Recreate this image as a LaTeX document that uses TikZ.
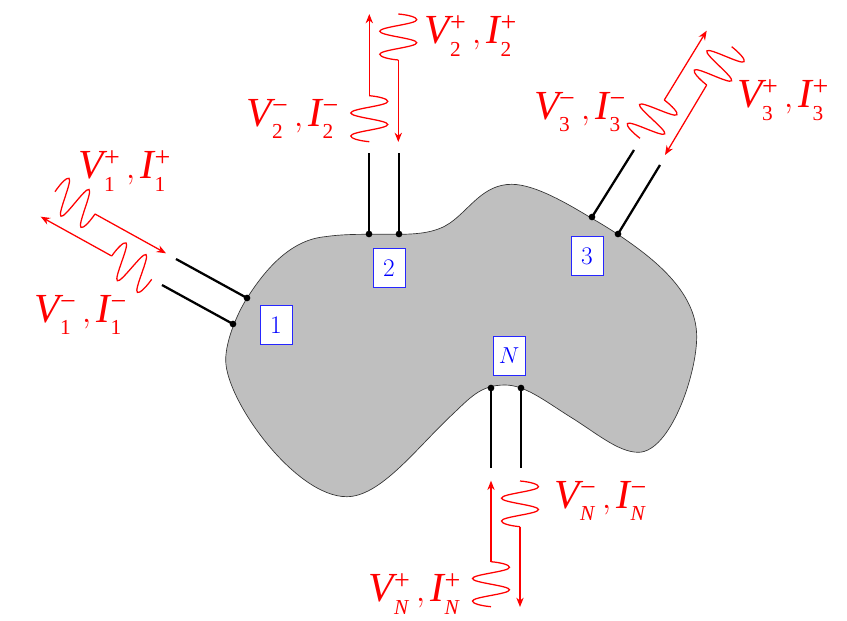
\documentclass[tikz,border=0pt]{standalone}
\usepackage{fontspec}
\setmainfont{Liberation Serif}
\usetikzlibrary{arrows.meta}
\DeclareMathSizes{31}{31}{17}{12}
% point of a wave: a = share of the way from start to end, b = share of the amplitude to the side
\newcommand{\wpt}[2]{({\wsx+(#1)*\wdx+(#2)*\wnx},{\wsy+(#1)*\wdy+(#2)*\wny})}
\newcommand{\wave}[4]{%
  \pgfmathsetmacro{\wsx}{#1}\pgfmathsetmacro{\wsy}{#2}%
  \pgfmathsetmacro{\wdx}{#3-#1}\pgfmathsetmacro{\wdy}{#4-#2}%
  \pgfmathsetmacro{\wnx}{18.5*\wdy/veclen(\wdx,\wdy)}%
  \pgfmathsetmacro{\wny}{-18.5*\wdx/veclen(\wdx,\wdy)}%
  \draw[redline] \wpt{0}{0}
   .. controls \wpt{0.02}{0.55} and \wpt{0.07}{1} .. \wpt{0.125}{1}
   .. controls \wpt{0.22}{1} and \wpt{0.28}{-1} .. \wpt{0.375}{-1}
   .. controls \wpt{0.47}{-1} and \wpt{0.53}{1} .. \wpt{0.625}{1}
   .. controls \wpt{0.72}{1} and \wpt{0.78}{-1} .. \wpt{0.875}{-1}
   .. controls \wpt{0.93}{-1} and \wpt{0.98}{-0.55} .. \wpt{1}{0};}
\newcommand{\scr}[1]{\hbox{\fontsize{16}{17}\selectfont #1}}
\newcommand{\sgn}[1]{\hbox{\fontsize{21}{22}\selectfont #1}}
\newcommand{\low}[1]{\smash{\lower 3pt\scr{#1}}}
\newcommand{\portlabel}[2]{$\mathit{V}_{\low{#1}}^{\sgn{#2}}\,,\mathit{I}_{\low{#1}}^{\sgn{#2}}$}
\tikzset{
  redline/.style={red,line width=0.95pt},
  redarrow/.style={redline,-{Stealth[length=7pt,width=5.5pt]}},
  lead/.style={black,line width=1.7pt},
  dotnode/.style={circle,fill=black,inner sep=0pt,minimum size=5pt},
  portbox/.style={draw=blue!85!white,fill=white,text=blue,line width=0.6pt,minimum width=24pt,minimum height=29pt,inner sep=0pt,font=\fontsize{19}{21}\fontfamily{lmr}\selectfont},
  quantity/.style={red,inner sep=0pt,font=\fontsize{31}{33}\selectfont}
}
\begin{document}
\begin{tikzpicture}[x=0.75pt,y=-0.75pt]
\useasboundingbox (0,0) rectangle (847,621);
% body
\draw[fill=black!25,line width=0.5pt,draw=black!80] (225.7,360)
 .. controls (225.7,340) and (238,312) .. (247.3,297.7)
 .. controls (265,270) and (290,240) .. (325,236.7)
 .. controls (340,234.5) and (355,234.3) .. (368.3,234.3)
 .. controls (378,234.3) and (388,234.3) .. (398.3,234.3)
 .. controls (420,234.3) and (437,232) .. (450,223)
 .. controls (470,209) and (483,184.3) .. (511.7,184.3)
 .. controls (535,184.3) and (568,204) .. (591.7,218.3)
 .. controls (600,223) and (609,228.5) .. (617.3,234)
 .. controls (650,256) and (696.7,290) .. (696.7,336.7)
 .. controls (696.7,375) and (670,452.3) .. (638.3,452.3)
 .. controls (618,452.3) and (595,432) .. (570,416.7)
 .. controls (545,401) and (525,385) .. (505,385)
 .. controls (480,385) and (470,398) .. (450,416.7)
 .. controls (415,450) and (380,496.7) .. (346.7,496.7)
 .. controls (295,496.7) and (225.7,400) .. (225.7,360) -- cycle;
% terminals
\node[dotnode] (a1) at (233,324) {};
\node[dotnode] (b1) at (247,298) {};
\node[dotnode] (a2) at (369,234) {};
\node[dotnode] (b2) at (399,234) {};
\node[dotnode] (a3) at (592,217) {};
\node[dotnode] (b3) at (618,234) {};
\node[dotnode] (aN) at (491,388) {};
\node[dotnode] (bN) at (521,388) {};
\coordinate (c1) at (162,285);
\coordinate (d1) at (176,259);
\coordinate (c2) at (369,153);
\coordinate (d2) at (399,153);
\coordinate (c3) at (634,150);
\coordinate (d3) at (660,165);
\coordinate (cN) at (491,468);
\coordinate (dN) at (521,468);
\foreach \p/\q in {a1/c1,b1/d1,a2/c2,b2/d2,a3/c3,b3/d3,aN/cN,bN/dN}{\draw[lead] (\p.center) -- (\q);}
% boxes
\node[portbox] (box1) at (276,325) {1};
\node[portbox] (box2) at (389,268) {2};
\node[portbox] (box3) at (587,256) {3};
\node[portbox] (boxN) at (509,356) {$N$};
% port 1
\wave{95}{214}{55}{191.7}
\wave{111.7}{256}{151.7}{279.3}
\draw[redarrow] (95,214) -- (166,253.3);
\draw[redarrow] (111.7,256) -- (40.7,216.7);
% port 2
\wave{369.3}{95.7}{369.3}{141.7}
\wave{398.3}{60}{398.3}{14}
\draw[redarrow] (369.3,95.7) -- (369.3,14);
\draw[redarrow] (398.3,60) -- (398.3,142);
% port 3
\wave{664.3}{100}{640}{138.3}
\wave{706.7}{85}{731.7}{46.7}
\draw[redarrow] (664.3,100) -- (706.7,30.7);
\draw[redarrow] (706.7,85) -- (665,155);
% port N
\wave{491}{561.7}{491}{606.7}
\wave{520}{526.7}{520}{481}
\draw[redarrow] (491,561.7) -- (491,480.7);
\draw[redarrow] (520,526.7) -- (520,607);
% labels
\node[quantity] (l1p) at (125,169) {\portlabel{1}{+}};
\node[quantity] (l1m) at (81,313) {\portlabel{1}{−}};
\node[quantity] (l2p) at (471,34) {\portlabel{2}{+}};
\node[quantity] (l2m) at (293,117) {\portlabel{2}{−}};
\node[quantity] (l3m) at (580,110) {\portlabel{3}{−}};
\node[quantity] (l3p) at (783,98) {\portlabel{3}{+}};
\node[quantity] (lNm) at (601,499) {\portlabel{\textit{N}}{−}};
\node[quantity] (lNp) at (415,592) {\portlabel{\textit{N}}{+}};
\end{tikzpicture}
\end{document}
